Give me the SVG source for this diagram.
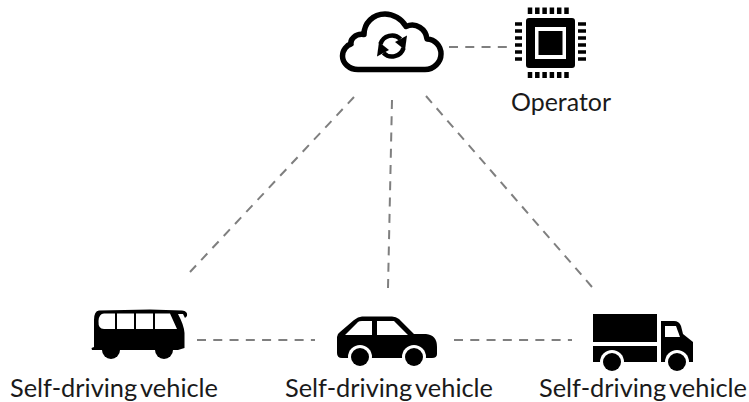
<svg xmlns="http://www.w3.org/2000/svg" width="749" height="402" viewBox="0 0 749 402">
<style>
.lbl{font-family:"Lato","Liberation Sans",sans-serif;font-size:25px;fill:#1a1a1a;word-spacing:-3px}
.c{fill:none;stroke:#7f7f7f;stroke-width:2;stroke-dasharray:9 7.270}
.k{fill:#000}
.w{fill:#fff}
</style>
<rect width="749" height="402" fill="#fff"/>
<g id="connectors">
<path class="c" d="M449 47H510"/>
<path class="c" style="stroke-dasharray:9 7.500" d="M354 97L190 272"/>
<path class="c" d="M392 100L388 288"/>
<path class="c" d="M426 96L592 287"/>
<path class="c" d="M197 340H315"/>
<path class="c" d="M454 340H572"/>
</g>
<g id="cloud">
<path d="M358 69.500H425C434 69.500 441 62 441 54C441 46 435 39.500 427 39C426 29 416 22 406 26.500C402 19 393 14 385 14C373 14 364 23 364 34.500C355 33 350 40 351 44C347 45 342.500 50 342.500 56C342.500 63 349 69.500 358 69.500Z" fill="none" stroke="#000" stroke-width="5.500" stroke-linejoin="round"/>
<path d="M380.500 44A12 12 0 0 1 400.500 39M403.500 48A12 12 0 0 1 383.500 53" fill="none" stroke="#000" stroke-width="4.500"/>
<path class="k" d="M395 42L407 35.500L405 50Z"/>
<path class="k" d="M389 50L377 56.500L379 42Z"/>
</g>
<g id="operator">
<rect class="k" x="526" y="18" width="49" height="50" rx="3"/>
<rect class="w" x="535" y="27" width="31" height="32"/>
<rect class="k" x="538.500" y="31" width="24" height="24"/>
<path d="M530 7.500v6.500M537.300 7.500v6.500M544.600 7.500v6.500M551.900 7.500v6.500M559.200 7.500v6.500M566.500 7.500v6.500M530 72v6M537.300 72v6M544.600 72v6M551.900 72v6M559.200 72v6M566.500 72v6" stroke="#000" stroke-width="4.500" fill="none"/>
<path d="M515 24h7M515 31h7M515 38h7M515 45h7M515 52h7M515 59h7M578 24h8M578 31h8M578 38h8M578 45h8M578 52h8M578 59h8" stroke="#000" stroke-width="3.500" fill="none"/>
<text class="lbl" x="511" y="111" textLength="100" lengthAdjust="spacingAndGlyphs">Operator</text>
</g>
<g id="bus">
<path class="k" d="M94 320Q94 311 99 310.500L150 309.500L182 310.500Q188 311 187 316L185 318L183 314H178Q184 325 184.500 333V348L178 350H98L92 350L91.500 348L94 347Z"/>
<circle class="k" cx="111" cy="350" r="9"/>
<circle class="k" cx="164" cy="350" r="9"/>
<path class="w" d="M104 313.500H115V329H104Q98 329 98.500 321Q99 313.500 104 313.500ZM117 313.500H134V329H117ZM136 313.500H153V329H136ZM155 313.500H170L177 329H155Z"/>
<path class="k" d="M171 312L174 312L180 329H178Z"/>
<text class="lbl" x="10" y="396.500" textLength="208" lengthAdjust="spacingAndGlyphs">Self-driving vehicle</text>
</g>
<g id="car">
<path class="k" d="M337 347V337Q337 334 340 332L354 320Q358 316.500 362 316.500H392Q396 316.500 399 319L414 334H426Q437 335 437 347V354Q437 358 432 358H342Q337 358 337 353Z"/>
<path class="w" d="M345 335L358 322Q359 321 362 321H372V335ZM377 321H394L408 335H377Z"/>
<circle class="w" cx="360" cy="357" r="12"/>
<circle class="w" cx="414" cy="357" r="12"/>
<rect class="w" x="337" y="358" width="100" height="10"/>
<circle class="k" cx="360" cy="357" r="9"/>
<circle class="k" cx="414" cy="357" r="9"/>
<text class="lbl" x="285" y="396.500" textLength="208" lengthAdjust="spacingAndGlyphs">Self-driving vehicle</text>
</g>
<g id="truck">
<rect class="k" x="593" y="314" width="64" height="28"/>
<rect class="k" x="593" y="346" width="64" height="16"/>
<path class="k" d="M661 321H674Q679 321 681 326L683 334L693 342V362H661Z"/>
<path class="w" d="M665 326H676L680 337H665Z"/>
<circle class="w" cx="612" cy="362" r="12"/>
<circle class="w" cx="677" cy="362" r="12"/>
<rect class="w" x="593" y="362" width="100" height="10"/>
<circle class="k" cx="612" cy="362" r="9"/>
<circle class="k" cx="677" cy="362" r="9"/>
<text class="lbl" x="539" y="396.500" textLength="208" lengthAdjust="spacingAndGlyphs">Self-driving vehicle</text>
</g>
</svg>
